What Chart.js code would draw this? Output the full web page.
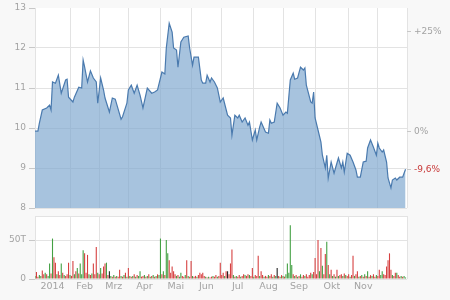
<!DOCTYPE html>
<html><head><meta charset="utf-8">
<script src="https://cdn.jsdelivr.net/npm/chart.js@4"></script>
<style>
body{margin:0;background:#f8f8f8;width:450px;height:300px;overflow:hidden;position:relative}
canvas{position:absolute;left:0}
</style></head>
<body>
<canvas id="priceChart" width="450" height="216" style="top:0"></canvas>
<canvas id="volChart" width="450" height="88" style="top:212px"></canvas>
<script>
// trading-day index where each month starts, axis end, month labels
const monthStarts=[0,24,44,64,86,107,128,150,170,192,215,235];
const dayMax=255;
const monthLabels=['2014','Feb','Mrz','Apr','Mai','Jun','Jul','Aug','Sep','Okt','Nov'];
const priceTicks=[8,9,10,11,12,13];
const basePrice=9.92;
const priceDays=[0,2,3,5,8,10,11,12,14,16,18,21,22,23,26,27,30,32,33,34,36,38,40,42,43,45,47,48,51,53,55,59,60,63,64,66,68,70,72,74,77,80,82,84,87,89,90,92,94,95,97,98,100,102,105,106,108,109,112,114,115,117,118,120,121,123,125,127,129,132,134,135,137,139,140,142,144,146,147,149,151,152,154,155,158,160,161,162,164,166,168,170,172,173,175,177,178,180,182,184,185,186,189,190,191,192,194,196,197,199,200,201,203,205,206,208,210,211,212,214,216,218,220,221,223,225,227,228,230,232,234,235,236,238,239,241,242,244,245,247,248,250,252,254];
const prices=[9.92,9.92,10.12,10.45,10.5,10.57,10.45,11.15,11.12,11.32,10.87,11.2,11.22,10.77,10.65,10.77,11.02,11.0,11.7,11.53,11.15,11.43,11.25,11.15,10.62,11.25,10.95,10.75,10.4,10.75,10.72,10.22,10.28,10.62,10.95,11.07,10.87,11.07,10.82,10.5,11.0,10.87,10.9,10.95,11.4,11.35,12.0,12.62,12.4,12.0,11.95,11.52,12.15,12.27,12.3,12.0,11.57,11.77,11.77,11.2,11.12,11.12,11.32,11.15,11.25,11.15,11.0,10.65,10.75,10.32,10.25,9.82,10.32,10.25,10.32,10.15,10.25,10.07,10.15,9.7,9.95,9.7,10.02,10.15,9.9,9.87,10.2,10.12,10.15,10.62,10.5,10.32,10.4,10.37,11.2,11.37,11.22,11.25,11.52,11.45,11.5,11.07,10.65,10.62,10.9,10.25,9.95,9.65,9.32,9.0,9.32,8.75,9.15,8.87,9.0,9.25,9.0,9.15,8.9,9.37,9.32,9.15,8.95,8.77,8.77,9.15,9.17,9.5,9.7,9.52,9.32,9.62,9.5,9.4,9.45,9.15,8.75,8.5,8.7,8.75,8.7,8.77,8.77,8.97];
// daily volume in thousands, one per trading day
const volumes=[4,9,3,5,4,11,6,8,6,4, 20,7,52,28,21,6,10,5,20,8, 5,4,6,21,5,4,23,6,10,14, 7,20,6,37,33,8,31,6,5,7,
 20,6,41,8,6,14,7,16,20,21, 5,10,4,3,5,3,4,3,12,4, 3,5,8,3,14,4,3,4,6,3, 5,4,10,3,4,5,3,4,6,3,
 4,5,3,4,6,5,52,6,10,5, 50,33,24,8,16,10,6,4,5,3, 8,4,3,5,24,4,3,23,4,3, 4,3,5,8,6,8,4,3,2,3,
 2,3,4,3,5,3,4,21,5,8, 4,10,10,6,20,38,5,3,4,3, 5,3,4,6,5,4,6,5,4,14, 3,5,4,30,4,10,5,3,4,3,
 5,4,6,3,5,4,14,4,3,5, 4,3,6,20,8,69,18,6,4,5, 3,4,6,3,5,4,6,3,5,8, 6,9,27,6,50,10,40,17,6,32,
 48,18,6,12,4,6,3,12,4,5, 6,4,7,5,4,6,3,5,30,4, 6,10,3,4,5,3,6,4,10,3, 5,4,6,3,5,4,12,5,10,6,
 5,16,24,33,12,5,4,8,8,5, 3,4,3,4,2];
// g = up day, r = down day, k = unchanged
const volumeDir='grrggrrgrggrgrrgrrgrgrrrgrrgrgrgggrrrgrgrrrgrgrrrgrkgrgrgrrgrgrgrgrgrgrggrrgrgrgrgrgrggrgrggrrrrrgrggrrgrgrrgrrgrrrrrgrgrrgrrgrrrrgrkrrrgrgrrgrrgrrgrrgrrrgrrgrrgrrgrgkrgrgrgggggrgrgrgrrgrrrrgrrrrgrgrrgrgrgrgrgrrgrgrrgrrgrrgrgrgrgrrgrrgrrggrrrrrrgrrgrrgrgg';
const volTicks=[0,50];
const volMax=81;

const font={family:'DejaVu Sans',size:9};
const gridColor='#e3e3e3', labelColor='#a3a3a3';
const plotBg={id:'plotBg',beforeDraw(c){const a=c.chartArea,x=c.ctx;x.save();x.fillStyle='#ffffff';x.fillRect(a.left,a.top,a.width,a.height);x.restore();}};
const noPad=w=>s=>{s.width=w;s.paddingTop=0;s.paddingBottom=0};
const monthGrid=()=>({type:'linear',min:0,max:dayMax,offset:false,afterBuildTicks:s=>{s.ticks=[...monthStarts,dayMax].map(v=>({value:v}))},
  ticks:{display:false},grid:{color:gridColor,drawTicks:false,offset:false},border:{display:false},afterFit:s=>{s.height=0;s.paddingLeft=0;s.paddingRight=0}});
const pct=v=>{const p=(v/basePrice-1)*100, r=Math.round(p*10)/10;return (r>0?'+':'')+(Number.isInteger(r)?r:r.toFixed(1).replace('.',','))+'%'};
const lastPrice=prices[prices.length-1];

new Chart(document.getElementById('priceChart'),{
  type:'line',
  data:{datasets:[{data:priceDays.map((d,i)=>({x:d,y:prices[i]})),borderColor:'#4a7aae',borderWidth:1.2,
    backgroundColor:'rgba(126,166,207,0.68)',fill:'start',pointRadius:0,tension:0}]},
  options:{responsive:false,animation:false,events:[],layout:{padding:{top:8,bottom:8}},
    plugins:{legend:{display:false},tooltip:{enabled:false}},
    scales:{
      x:monthGrid(),
      y:{min:8,max:13,afterBuildTicks:s=>{s.ticks=priceTicks.map(v=>({value:v}))},afterFit:noPad(35),
        ticks:{color:labelColor,font,padding:3},
        grid:{color:c=>c.tick&&c.tick.value===13?'rgba(0,0,0,0)':gridColor,tickColor:'#c8c8c8',tickLength:6},border:{display:false}},
      y2:{position:'right',min:8,max:13,afterBuildTicks:s=>{s.ticks=[basePrice*1.25,basePrice,lastPrice].map(v=>({value:v}))},afterFit:noPad(43),
        ticks:{color:c=>c.index===2?'#c83a3a':labelColor,font,padding:3,callback:v=>pct(v)},
        grid:{drawOnChartArea:false,tickColor:'#c8c8c8',tickLength:4},border:{display:false}}
    }},
  plugins:[plotBg]
});

const dirColor={g:'#43a043',r:'#d64040',k:'#222222'};
new Chart(document.getElementById('volChart'),{
  type:'bar',
  data:{datasets:[{data:volumes.map((v,i)=>({x:i,y:v})),backgroundColor:volumes.map((v,i)=>dirColor[volumeDir[i]]),
    barPercentage:0.75,categoryPercentage:1}]},
  options:{responsive:false,animation:false,events:[],layout:{padding:{top:4,right:43}},
    plugins:{legend:{display:false},tooltip:{enabled:false}},
    scales:{
      x:monthGrid(),
      x2:{type:'linear',position:'bottom',min:0,max:dayMax,offset:false,
        afterBuildTicks:s=>{s.ticks=monthLabels.map((l,i)=>({value:(monthStarts[i]+monthStarts[i+1])/2}))},
        ticks:{color:labelColor,font:{family:'DejaVu Sans',size:9.5},padding:2,maxRotation:0,autoSkip:false,callback:(v,i)=>monthLabels[i]},
        grid:{display:false,drawTicks:false,offset:false},border:{display:false},afterFit:s=>{s.height=21;s.paddingLeft=0;s.paddingRight=0}},
      y:{min:0,max:volMax,afterBuildTicks:s=>{s.ticks=[...volTicks,volMax].map(v=>({value:v}))},afterFit:noPad(35),
        ticks:{color:labelColor,font,padding:3,callback:v=>v===volMax?'':v===0?'0':v+'T'},
        grid:{color:gridColor,tickColor:c=>c.tick&&c.tick.value===volMax?'rgba(0,0,0,0)':'#c8c8c8',tickLength:6},border:{display:false}}
    }},
  plugins:[plotBg]
});
</script>
</body></html>
